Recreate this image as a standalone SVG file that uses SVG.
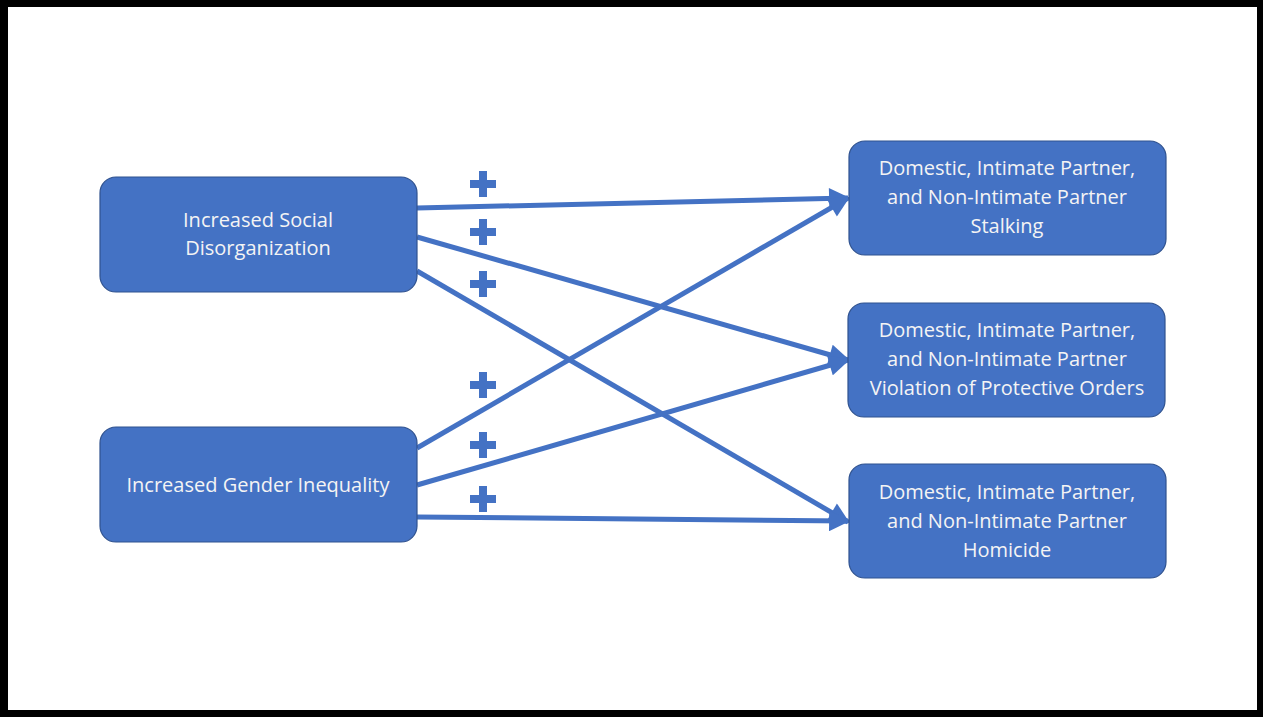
<svg xmlns="http://www.w3.org/2000/svg" width="1263" height="717" viewBox="0 0 1263 717">
<style>
.node{fill:#4472C4;stroke:#2F528F;stroke-width:1.2}
.t{fill:#F4F4F4;font-family:"Open Sans","Liberation Sans",sans-serif;font-size:20px;text-anchor:middle}
.c{stroke:#4472C4;stroke-width:5;fill:none}
.p{fill:#4472C4}
</style>
<defs>
<marker id="ah" viewBox="0 0 10 10" refX="9" refY="5" markerWidth="4.6" markerHeight="4.2" orient="auto" markerUnits="strokeWidth">
<path d="M0,0 L10,5 L0,10 z" fill="#4472C4"/>
</marker>
<symbol id="plus" viewBox="0 0 26 26"><path d="M9,0h8v9h9v8h-9v9h-8v-9h-9v-8h9z"/></symbol>
</defs>
<rect x="0" y="0" width="1263" height="717" fill="#000"/>
<rect x="8" y="7" width="1249" height="703" fill="#fff"/>
<g id="connectors">
<line class="c" x1="417" y1="208" x2="848" y2="198" marker-end="url(#ah)"/>
<line class="c" x1="417" y1="237" x2="848" y2="360" marker-end="url(#ah)"/>
<line class="c" x1="417" y1="271" x2="848" y2="522" marker-end="url(#ah)"/>
<line class="c" x1="417" y1="448" x2="848" y2="198" marker-end="url(#ah)"/>
<line class="c" x1="417" y1="485" x2="848" y2="360" marker-end="url(#ah)"/>
<line class="c" x1="417" y1="517" x2="848" y2="521" marker-end="url(#ah)"/>
</g>
<g id="plus-signs" class="p">
<use href="#plus" x="470" y="171" width="26" height="26"/>
<use href="#plus" x="470" y="219" width="26" height="26"/>
<use href="#plus" x="470" y="271" width="26" height="26"/>
<use href="#plus" x="470" y="372" width="26" height="26"/>
<use href="#plus" x="470" y="432" width="26" height="26"/>
<use href="#plus" x="470" y="486" width="26" height="26"/>
</g>
<g id="n-social">
<rect class="node" x="100" y="177" width="317" height="115" rx="16"/>
<text class="t" x="258" y="227">Increased Social</text>
<text class="t" x="258" y="255">Disorganization</text>
</g>
<g id="n-gender">
<rect class="node" x="100" y="427" width="317" height="115" rx="16"/>
<text class="t" x="258" y="492">Increased Gender Inequality</text>
</g>
<g id="n-stalking">
<rect class="node" x="849" y="141" width="317" height="114" rx="16"/>
<text class="t" x="1007" y="175">Domestic, Intimate Partner,</text>
<text class="t" x="1007" y="204">and Non-Intimate Partner</text>
<text class="t" x="1007" y="233">Stalking</text>
</g>
<g id="n-orders">
<rect class="node" x="848" y="303" width="317" height="114" rx="16"/>
<text class="t" x="1007" y="337">Domestic, Intimate Partner,</text>
<text class="t" x="1007" y="366">and Non-Intimate Partner</text>
<text class="t" x="1007" y="395">Violation of Protective Orders</text>
</g>
<g id="n-homicide">
<rect class="node" x="849" y="464" width="317" height="114" rx="16"/>
<text class="t" x="1007" y="499">Domestic, Intimate Partner,</text>
<text class="t" x="1007" y="528">and Non-Intimate Partner</text>
<text class="t" x="1007" y="557">Homicide</text>
</g>
</svg>
